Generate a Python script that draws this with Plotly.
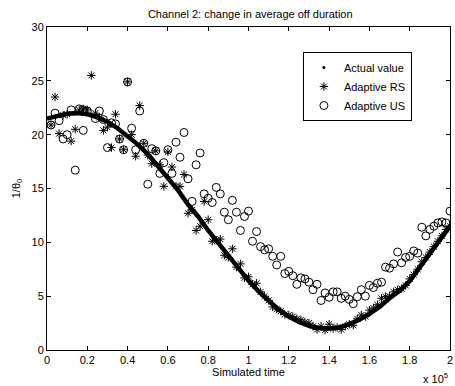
import plotly.graph_objects as go

# x values are in units of 10^5 (simulated time)
actual_x = [0.00, 0.05, 0.10, 0.15, 0.20, 0.25, 0.30, 0.35, 0.40, 0.45, 0.50, 0.55, 0.60, 0.65,
            0.70, 0.75, 0.80, 0.85, 0.90, 0.95, 1.00, 1.05, 1.10, 1.15, 1.20, 1.25, 1.30, 1.35,
            1.40, 1.45, 1.50, 1.55, 1.60, 1.65, 1.70, 1.75, 1.80, 1.85, 1.90, 1.95, 2.00]
actual_y = [21.5, 21.75, 21.95, 22.0, 21.9, 21.6, 21.2, 20.6, 19.9, 19.1, 18.2, 17.1, 16.0, 14.85,
            13.5, 12.4, 11.1, 9.9, 8.7, 7.5, 6.45, 5.45, 4.55, 3.75, 3.1, 2.6, 2.25, 2.05,
            2.0, 2.1, 2.4, 2.8, 3.35, 4.0, 4.8, 5.5, 6.4, 7.7, 9.0, 10.3, 11.5]

rs_x = [0.02, 0.04, 0.06, 0.08, 0.10, 0.12, 0.14, 0.16, 0.18, 0.20, 0.22, 0.24, 0.26, 0.28, 0.30,
        0.32, 0.34, 0.36, 0.38, 0.40, 0.42, 0.44, 0.46, 0.48, 0.50, 0.52, 0.54, 0.56, 0.58, 0.60,
        0.62, 0.64, 0.66, 0.68, 0.70, 0.72, 0.74, 0.76, 0.78, 0.80, 0.82, 0.84, 0.86, 0.88, 0.90,
        0.92, 0.94, 0.96, 0.98, 1.00, 1.02, 1.04, 1.06, 1.08, 1.10, 1.12, 1.14, 1.16, 1.18, 1.20,
        1.22, 1.24, 1.26, 1.28, 1.30, 1.32, 1.34, 1.36, 1.38, 1.40, 1.42, 1.44, 1.46, 1.48, 1.50,
        1.52, 1.54, 1.56, 1.58, 1.60, 1.62, 1.64, 1.66, 1.68, 1.70, 1.72, 1.74, 1.76, 1.78, 1.80,
        1.82, 1.84, 1.86, 1.88, 1.90, 1.92, 1.94, 1.96, 1.98, 2.00]
rs_y = [20.9, 23.5, 20.1, 21.8, 21.9, 19.4, 20.5, 22.3, 22.4, 22.3, 25.5, 22.0, 21.6, 20.4, 20.7,
        18.8, 21.9, 19.6, 18.6, 24.9, 20.0, 18.0, 22.7, 19.2, 18.1, 17.3, 18.5, 17.2, 15.2, 18.4,
        17.0, 15.2, 15.2, 16.3, 12.7, 13.0, 11.1, 11.5, 13.8, 12.1, 10.1, 10.2, 10.3, 8.8, 8.6,
        9.4, 7.7, 8.0, 6.7, 6.8, 6.1, 6.2, 5.4, 5.0, 4.6, 4.0, 3.8, 3.6, 3.3, 3.25,
        3.1, 2.9, 2.8, 2.6, 2.5, 2.2, 1.9, 2.2, 1.85, 2.4, 2.0, 2.1, 1.9, 2.2, 2.4,
        2.3, 2.9, 3.25, 3.1, 3.7, 3.9, 4.2, 4.8, 4.95, 5.0, 5.4, 5.6, 5.7, 6.0, 6.6,
        7.0, 7.5, 8.2, 8.6, 9.1, 9.6, 10.1, 10.6, 11.2, 11.5]

us_x = [0.02, 0.04, 0.06, 0.08, 0.10, 0.12, 0.14, 0.16, 0.18, 0.18, 0.20, 0.24, 0.26, 0.28, 0.30,
        0.32, 0.34, 0.36, 0.38, 0.40, 0.42, 0.44, 0.46, 0.48, 0.50, 0.52, 0.54, 0.56, 0.58, 0.60,
        0.62, 0.64, 0.66, 0.68, 0.70, 0.72, 0.74, 0.76, 0.78, 0.80, 0.82, 0.84, 0.86, 0.88, 0.90,
        0.92, 0.94, 0.96, 0.98, 1.00, 1.02, 1.04, 1.06, 1.08, 1.10, 1.12, 1.14, 1.16, 1.18, 1.20,
        1.22, 1.24, 1.26, 1.28, 1.30, 1.32, 1.34, 1.36, 1.38, 1.40, 1.42, 1.44, 1.46, 1.48, 1.50,
        1.52, 1.54, 1.56, 1.58, 1.60, 1.62, 1.64, 1.66, 1.68, 1.70, 1.72, 1.74, 1.76, 1.78, 1.80,
        1.82, 1.84, 1.86, 1.88, 1.90, 1.92, 1.94, 1.96, 1.98, 2.00]
us_y = [20.9, 22.0, 21.3, 19.6, 20.0, 22.3, 16.7, 22.4, 22.3, 20.4, 22.2, 21.5, 22.2, 21.4, 18.8,
        21.1, 21.0, 19.6, 18.6, 24.9, 20.6, 18.6, 22.2, 19.2, 15.4, 18.7, 18.5, 16.4, 17.4, 18.6,
        16.4, 19.3, 17.9, 20.2, 15.9, 13.8, 17.2, 18.3, 14.5, 14.1, 13.7, 15.1, 14.5, 12.8, 12.1,
        13.9, 12.8, 11.1, 12.4, 12.9, 10.1, 11.0, 9.6, 9.3, 9.4, 8.7, 7.9, 8.7, 7.1, 7.3,
        6.9, 6.1, 6.7, 6.6, 6.3, 5.6, 6.1, 4.6, 5.3, 4.9, 5.4, 5.4, 4.8, 5.0, 4.7,
        4.3, 4.95, 5.6, 5.0, 6.0, 5.8, 6.2, 6.3, 7.7, 7.6, 8.0, 9.1, 8.1, 8.6, 8.7,
        9.2, 9.0, 11.4, 10.6, 11.2, 11.5, 11.8, 11.9, 11.8, 12.9]

x_ticks = [0, 0.2, 0.4, 0.6, 0.8, 1, 1.2, 1.4, 1.6, 1.8, 2]
y_ticks = [0, 5, 10, 15, 20, 25, 30]

FONT = "Liberation Sans, Arial, Helvetica, sans-serif"

fig = go.Figure()
fig.add_trace(go.Scatter(x=actual_x, y=actual_y, mode="lines", line=dict(color="black", width=4.5),
                         showlegend=False, hoverinfo="skip"))
fig.add_trace(go.Scatter(x=[None], y=[None], mode="markers", name="Actual value",
                         marker=dict(symbol="circle", size=3, color="black")))
fig.add_trace(go.Scatter(x=rs_x, y=rs_y, mode="markers", name="Adaptive RS",
                         marker=dict(symbol="asterisk-open", size=7, color="black",
                                     line=dict(color="black", width=1))))
fig.add_trace(go.Scatter(x=us_x, y=us_y, mode="markers", name="Adaptive US",
                         marker=dict(symbol="circle-open", size=8, color="black",
                                     line=dict(color="black", width=1))))

axis_common = dict(showline=True, linecolor="black", linewidth=1, mirror="ticks",
                   ticks="inside", ticklen=4, tickcolor="black", showgrid=False,
                   zeroline=False, ticklabeloverflow="allow",
                   tickfont=dict(family=FONT, size=11, color="black"))

fig.update_layout(
    width=455, height=386,
    margin=dict(l=47, r=2, t=27, b=36),
    paper_bgcolor="white", plot_bgcolor="white",
    font=dict(family=FONT, size=11, color="black"),
    title=dict(text="Channel 2: change in average off duration", x=0.55, xanchor="center",
               y=1 - 14 / 386, yanchor="middle", font=dict(family=FONT, size=11, color="black")),
    xaxis=dict(range=[0, 2], tickvals=x_ticks, ticktext=[str(t) for t in x_ticks],
               title=dict(text="Simulated time", standoff=2, font=dict(size=11)), **axis_common),
    yaxis=dict(range=[0, 30], tickvals=y_ticks,
               title=dict(text="1/θ<sub>0</sub>", standoff=8, font=dict(size=11)), **axis_common),
    legend=dict(x=0.635, y=0.9226, xanchor="left", yanchor="top", bgcolor="white",
                bordercolor="black", borderwidth=1, font=dict(family=FONT, size=11, color="black"),
                tracegroupgap=0, itemsizing="trace"),
    annotations=[dict(text="x 10<sup>5</sup>", xref="paper", yref="paper", x=1.0, y=-0.087,
                      xanchor="right", yanchor="middle", showarrow=False,
                      font=dict(family=FONT, size=11, color="black"))],
)

fig.write_html("out.html")
